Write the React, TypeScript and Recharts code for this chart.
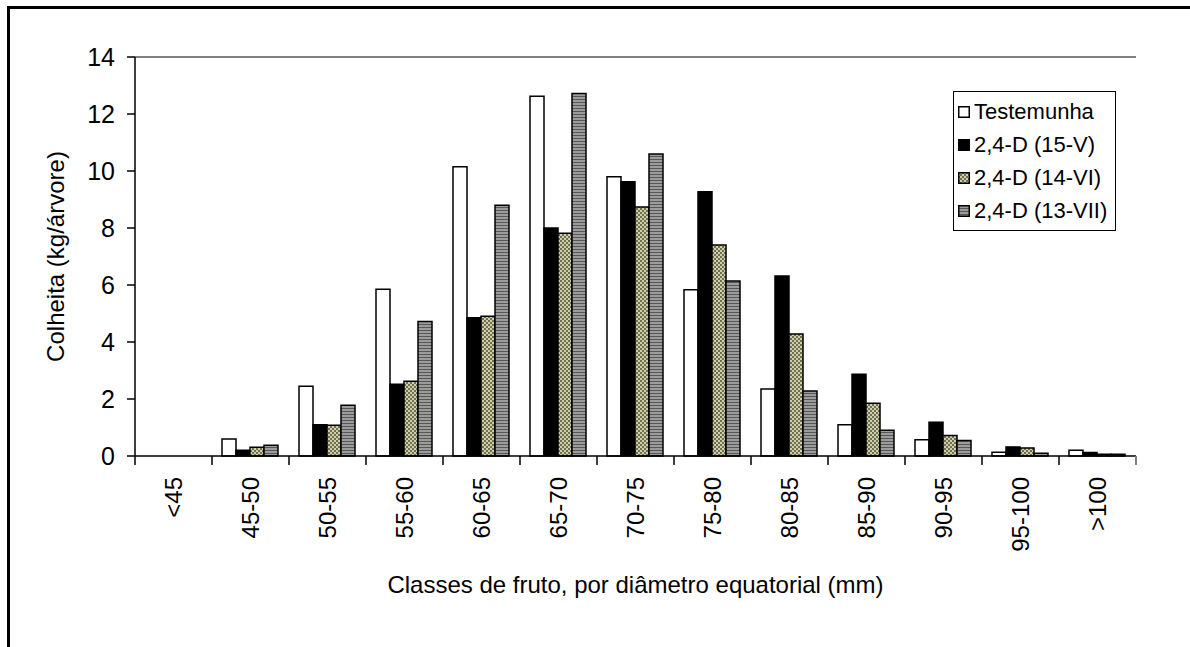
import { BarChart, Bar, XAxis, YAxis, Legend, ReferenceLine, Label } from 'recharts'

const classes = ['<45', '45-50', '50-55', '55-60', '60-65', '65-70', '70-75', '75-80', '80-85', '85-90', '90-95', '95-100', '>100']
const testemunha = [0, 0.6, 2.45, 5.85, 10.15, 12.62, 9.8, 5.83, 2.35, 1.1, 0.57, 0.13, 0.2]
const d15V = [0, 0.2, 1.1, 2.52, 4.85, 8.0, 9.62, 9.27, 6.32, 2.87, 1.18, 0.32, 0.12]
const d14VI = [0, 0.31, 1.08, 2.62, 4.9, 7.82, 8.74, 7.4, 4.28, 1.85, 0.72, 0.28, 0.06]
const d13VII = [0, 0.38, 1.78, 4.72, 8.8, 12.72, 10.6, 6.14, 2.28, 0.9, 0.54, 0.1, 0.06]
const yTicks = [0, 2, 4, 6, 8, 10, 12, 14]

const data = classes.map((classe, i) => ({
  classe,
  t: testemunha[i],
  v: d15V[i],
  vi: d14VI[i],
  vii: d13VII[i],
}))

const series = [
  { key: 't', name: 'Testemunha', fill: '#ffffff' },
  { key: 'v', name: '2,4-D (15-V)', fill: '#000000' },
  { key: 'vi', name: '2,4-D (14-VI)', fill: 'url(#olive)' },
  { key: 'vii', name: '2,4-D (13-VII)', fill: 'url(#stripes)' },
]

const font = 'Liberation Sans, Arial, sans-serif'
const TICK_SIZE = 9
const TICK_MARGIN = 12

// category label + tick marks on the category boundaries (Excel style)
const ClassTick = ({ x, y, payload, index, width, visibleTicksCount }: any) => {
  const band = width && visibleTicksCount ? width / visibleTicksCount : 77
  const top = -(TICK_SIZE + TICK_MARGIN)
  const last = index === visibleTicksCount - 1
  return (
    <g transform={`translate(${x},${y})`}>
      <line x1={-band / 2} x2={-band / 2} y1={top} y2={top + TICK_SIZE} stroke="#000" strokeWidth={1.5} />
      {last && <line x1={band / 2} x2={band / 2} y1={top} y2={top + TICK_SIZE} stroke="#808080" strokeWidth={2} />}
      <text transform="rotate(-90)" textAnchor="end" dy="0.36em" fontSize={24} fill="#000" fontFamily={font}>
        {payload.value}
      </text>
    </g>
  )
}

const LegendBox = ({ payload }: any) => {
  const order = series.map((s) => s.name)
  const items = [...(payload || [])].sort((a: any, b: any) => order.indexOf(a.value) - order.indexOf(b.value))
  return (
    <div style={{ border: '1px solid #000', background: '#fff', padding: '3px 8px 3px 4px', fontSize: 22, lineHeight: '33px', fontFamily: font }}>
      {items.map((p: any) => (
        <div key={p.value} style={{ display: 'flex', alignItems: 'center', whiteSpace: 'nowrap' }}>
          <svg width={12} height={12} style={{ marginRight: 4 }}>
            <rect x={0.75} y={0.75} width={10.5} height={10.5} fill={p.color} stroke="#000" strokeWidth={1.5} />
          </svg>
          {p.value}
        </div>
      ))}
    </div>
  )
}

export default function App() {
  return (
    <div style={{ position: 'absolute', left: 0, top: 0, width: 1190, height: 647, background: '#fff' }}>
      <div style={{ position: 'absolute', left: 7, top: 6, width: 1183, height: 641, borderTop: '3px solid #000', borderLeft: '3px solid #000' }} />
      <BarChart
        width={1190}
        height={647}
        data={data}
        margin={{ top: 57, right: 54, left: 0, bottom: 0 }}
        barCategoryGap={10}
        barGap={0}
        style={{ position: 'absolute', left: 0, top: 0, fontFamily: font }}
      >
        <defs>
          <pattern id="olive" width="4" height="4" patternUnits="userSpaceOnUse">
            <rect width="4" height="4" fill="#cfcfae" />
            <rect x="0" y="0" width="2" height="2" fill="#6f6f4f" />
            <rect x="2" y="2" width="2" height="2" fill="#6f6f4f" />
          </pattern>
          <pattern id="stripes" width="4" height="3" patternUnits="userSpaceOnUse">
            <rect width="4" height="3" fill="#9c9c9c" />
            <rect x="0" y="0" width="4" height="1" fill="#575757" />
          </pattern>
        </defs>
        <XAxis
          dataKey="classe"
          height={191}
          interval={0}
          axisLine={{ stroke: '#000', strokeWidth: 1.5 }}
          tickLine={false}
          tickSize={TICK_SIZE}
          tickMargin={TICK_MARGIN}
          tick={<ClassTick />}
        >
          <Label value="Classes de fruto, por diâmetro equatorial (mm)" position="insideBottom" offset={54} fontSize={24} fill="#000" fontFamily={font} />
        </XAxis>
        <YAxis
          yAxisId="left"
          width={135}
          domain={[0, 14]}
          ticks={yTicks}
          interval={0}
          tickSize={8}
          tickMargin={12}
          axisLine={{ stroke: '#000', strokeWidth: 1.5 }}
          tickLine={{ stroke: '#000', strokeWidth: 1.5 }}
          tick={{ fontSize: 25, fill: '#000', fontFamily: font }}
        >
          <Label value="Colheita (kg/árvore)" angle={-90} position="center" dx={-12} fontSize={24} fill="#000" fontFamily={font} />
        </YAxis>
        <YAxis
          yAxisId="right"
          orientation="right"
          width={0}
          domain={[0, 14]}
          tick={false}
          tickLine={false}
          axisLine={{ stroke: '#808080', strokeWidth: 2 }}
        />
        <ReferenceLine yAxisId="left" y={14} stroke="#808080" strokeWidth={2} />
        <Legend
          layout="vertical"
          align="center"
          verticalAlign="middle"
          content={<LegendBox />}
          wrapperStyle={{ left: 953, top: 91, width: 'auto', height: 'auto' }}
        />
        {series.map((s) => (
          <Bar
            key={s.key}
            dataKey={s.key}
            name={s.name}
            yAxisId="left"
            fill={s.fill}
            stroke="#000"
            strokeWidth={1.5}
            isAnimationActive={false}
          />
        ))}
      </BarChart>
    </div>
  )
}
